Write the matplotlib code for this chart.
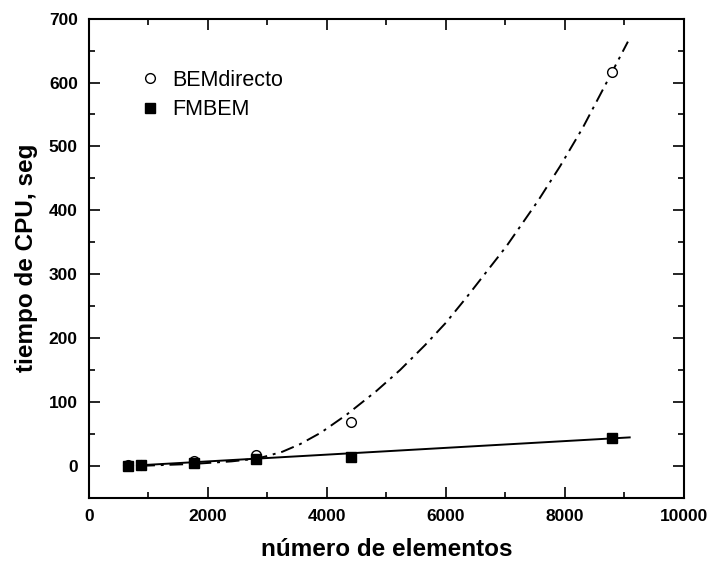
import matplotlib
matplotlib.use("Agg")
import matplotlib.pyplot as plt
from matplotlib.ticker import MultipleLocator

plt.rcParams["font.family"] = ["Liberation Sans", "DejaVu Sans"]

# measured points
n_elem = [660, 880, 1760, 2800, 4400, 8800]
t_bem = [1, 2, 7, 17, 68, 617]
t_fmbem = [0.5, 1, 5, 11, 14, 44]

# trend curves
bem_fit_x = [880, 1760, 2400, 2800, 2960, 3250, 3550, 3900, 4330, 4830, 5230,
             5650, 6000, 6350, 7020, 7550, 7920, 8300, 8690, 9060]
bem_fit_y = [0, 3, 7, 11, 14.5, 22, 34, 52, 80, 117, 150,
             189, 224, 264, 344, 415, 469, 529, 598, 664]
fmbem_fit_x = [880, 9090]
fmbem_fit_y = [1, 44.5]

fig = plt.figure(figsize=(7.09, 5.65), dpi=100)
ax = fig.add_axes([0.1255, 0.119, 0.839, 0.848])

ax.plot(bem_fit_x, bem_fit_y, color="black", lw=1.4, ls=(0, (7, 3, 1.5, 3)))
ax.plot(fmbem_fit_x, fmbem_fit_y, color="black", lw=1.4)
ax.plot(n_elem, t_bem, "o", ms=7, mfc="white", mec="black", mew=1.0, ls="none", label="BEMdirecto")
ax.plot(n_elem, t_fmbem, "s", ms=7, color="black", ls="none", label="FMBEM")

ax.set_xlim(0, 10000)
ax.set_ylim(-50, 700)
ax.xaxis.set_major_locator(MultipleLocator(2000))
ax.xaxis.set_minor_locator(MultipleLocator(1000))
ax.yaxis.set_major_locator(MultipleLocator(100))
ax.yaxis.set_minor_locator(MultipleLocator(50))
ax.tick_params(which="both", direction="in", top=True, right=True, width=1.2)
ax.tick_params(which="major", length=8, labelsize=12.5, pad=8)
ax.tick_params(which="minor", length=4)
for lab in ax.get_xticklabels() + ax.get_yticklabels():
    lab.set_fontweight("bold")
for sp in ax.spines.values():
    sp.set_linewidth(1.5)

ax.set_xlabel("número de elementos", fontsize=17.5, fontweight="bold", labelpad=10)
ax.set_ylabel("tiempo de CPU, seg", fontsize=17.5, fontweight="bold", labelpad=8)

ax.legend(loc="upper left", bbox_to_anchor=(0.052, 0.934), frameon=False,
          fontsize=15.5, handletextpad=0.52, labelspacing=0.4, handlelength=1.0)

fig.savefig("out.png", dpi=100)
